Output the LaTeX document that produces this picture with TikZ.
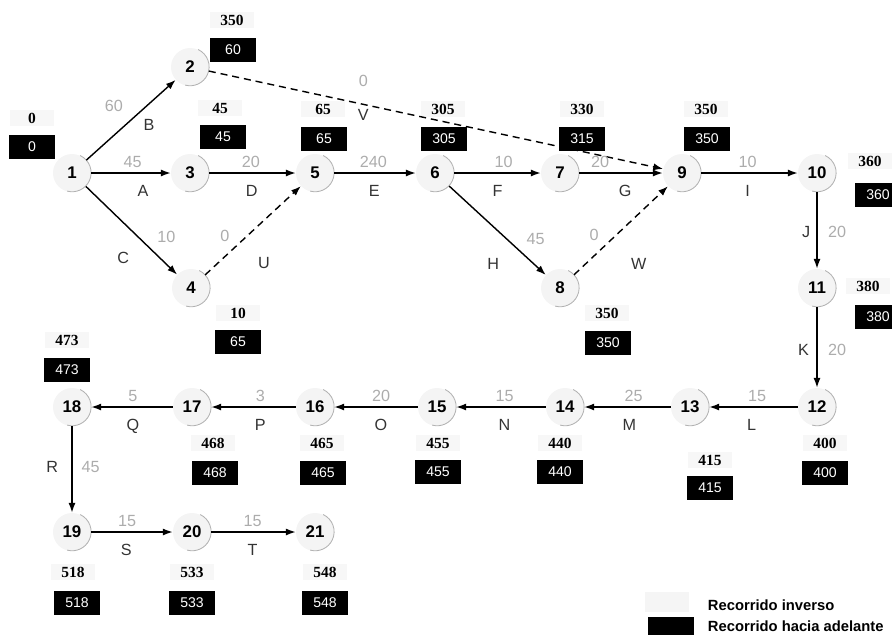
\documentclass[tikz,border=0pt]{standalone}
\usepackage{fontspec}
\setmainfont{Liberation Sans}
\newfontfamily\invfont{Liberation Serif}
\usetikzlibrary{arrows.meta}
\tikzset{
  ev/.style={circle, fill=gray!9, minimum size=0.95cm, inner sep=0pt,
    font=\bfseries\fontsize{12}{14}\selectfont},
  fwd/.style={fill=black, text=white, minimum width=1.15cm, minimum height=0.58cm,
    inner sep=0pt, font=\fontsize{10}{12}\selectfont},
  inv/.style={fill=gray!6, minimum width=1.1cm, minimum height=0.42cm, inner sep=0pt,
    font=\invfont\bfseries\fontsize{11}{13}\selectfont},
  arr/.style={-{Latex[length=7pt,width=5pt]}, line width=1pt},
  dsh/.style={arr, dash pattern=on 5pt off 3.5pt},
  wt/.style={text=gray!65, font=\fontsize{11.5}{13}\selectfont},
  lt/.style={text=black!80, font=\fontsize{11.5}{13}\selectfont},
}
\begin{document}
\begin{tikzpicture}[x=0.025cm, y=-0.025cm]
  \useasboundingbox (0,0) rectangle (892,634);
  % events
  \node[ev] (n1) at (72,173) {1};
  \node[ev] (n2) at (190,67) {2};
  \node[ev] (n3) at (190,173) {3};
  \node[ev] (n4) at (191,288) {4};
  \node[ev] (n5) at (315,173) {5};
  \node[ev] (n6) at (435,173) {6};
  \node[ev] (n7) at (560,173) {7};
  \node[ev] (n8) at (560,288) {8};
  \node[ev] (n9) at (682,173) {9};
  \node[ev] (n10) at (817,173) {10};
  \node[ev] (n11) at (817,288) {11};
  \node[ev] (n12) at (817,407) {12};
  \node[ev] (n13) at (690,407) {13};
  \node[ev] (n14) at (565,407) {14};
  \node[ev] (n15) at (437,407) {15};
  \node[ev] (n16) at (315,407) {16};
  \node[ev] (n17) at (192,407) {17};
  \node[ev] (n18) at (72,407) {18};
  \node[ev] (n19) at (72,532) {19};
  \node[ev] (n20) at (192,532) {20};
  \node[ev] (n21) at (315,532) {21};
  \foreach \n in {1,...,21}
    \draw[gray!60, line width=0.6pt] (n\n.65) arc[start angle=65, end angle=-105, radius=0.475cm];
  % backward pass values and forward pass boxes
  \node[inv] (i1) at (32,118) {0};     \node[fwd] (f1) at (32,147) {0};
  \node[inv] (i2) at (232,20) {350};   \node[fwd] (f2) at (233,50) {60};
  \node[inv] (i3) at (220,108) {45};   \node[fwd] (f3) at (223,137) {45};
  \node[inv] (i4) at (238,313) {10};   \node[fwd] (f4) at (238,342) {65};
  \node[inv] (i5) at (323,109) {65};   \node[fwd] (f5) at (324,139) {65};
  \node[inv] (i6) at (443,109) {305};  \node[fwd] (f6) at (444,139) {305};
  \node[inv] (i7) at (582,109) {330};  \node[fwd] (f7) at (582,139) {315};
  \node[inv] (i8) at (607,313) {350};  \node[fwd] (f8) at (608,343) {350};
  \node[inv] (i9) at (706,109) {350};  \node[fwd] (f9) at (707,139) {350};
  \node[inv] (i10) at (870,161) {360}; \node[fwd] (f10) at (878,195) {360};
  \node[inv] (i11) at (868,286) {380}; \node[fwd] (f11) at (878,317) {380};
  \node[inv] (i12) at (825,443) {400}; \node[fwd] (f12) at (825,473) {400};
  \node[inv] (i13) at (710,460) {415}; \node[fwd] (f13) at (710,488) {415};
  \node[inv] (i14) at (560,443) {440}; \node[fwd] (f14) at (560,472) {440};
  \node[inv] (i15) at (438,443) {455}; \node[fwd] (f15) at (438,472) {455};
  \node[inv] (i16) at (322,443) {465}; \node[fwd] (f16) at (323,473) {465};
  \node[inv] (i17) at (213,443) {468}; \node[fwd] (f17) at (215,473) {468};
  \node[inv] (i18) at (67,340) {473};  \node[fwd] (f18) at (67,370) {473};
  \node[inv] (i19) at (73,572) {518};  \node[fwd] (f19) at (77,603) {518};
  \node[inv] (i20) at (192,572) {533}; \node[fwd] (f20) at (192,603) {533};
  \node[inv] (i21) at (325,572) {548}; \node[fwd] (f21) at (325,603) {548};
  % activities
  \draw[arr] (n1) -- node[wt, pos=.5, above left=2pt] {60} node[lt, pos=.58, below right=0pt] {B} (n2);
  \draw[arr] (n1) -- node[wt, pos=.52, above] {45} node[lt, pos=.65, below=5pt] {A} (n3);
  \draw[arr] (n1) -- node[wt, pos=.71, above right=1pt] {10} node[lt, pos=.61, below left=5pt] {C} (n4);
  \draw[dsh] (n2) -- node[wt, pos=.34, above=9pt] {0} node[lt, pos=.34, below=0pt] {V} (n9);
  \draw[arr] (n3) -- node[wt, pos=.48, above] {20} node[lt, pos=.49, below=5pt] {D} (n5);
  \draw[dsh] (n4) -- node[wt, pos=.31, above left=0pt] {0} node[lt, pos=.38, below right=8pt] {U} (n5);
  \draw[arr] (n5) -- node[wt, pos=.48, above] {240} node[lt, pos=.49, below=5pt] {E} (n6);
  \draw[arr] (n6) -- node[wt, pos=.57, above] {10} node[lt, pos=.5, below=5pt] {F} (n7);
  \draw[arr] (n6) -- node[wt, pos=.73, above right=1pt] {45} node[lt, pos=.66, below left=6pt] {H} (n8);
  \draw[arr] (n7) -- node[wt, pos=.25, above] {20} node[lt, pos=.55, below=5pt] {G} (n9);
  \draw[dsh] (n8) -- node[wt, pos=.32, above left=0pt] {0} node[lt, pos=.40, below right=10pt] {W} (n9);
  \draw[arr] (n9) -- node[wt, pos=.48, above] {10} node[lt, pos=.48, below=5pt] {I} (n10);
  \draw[arr] (n10) -- node[lt, pos=.52, left=1pt] {J} node[wt, pos=.52, right=4pt] {20} (n11);
  \draw[arr] (n11) -- node[lt, pos=.53, left=2pt] {K} node[wt, pos=.53, right=4pt] {20} (n12);
  \draw[arr] (n12) -- node[wt, pos=.46, above] {15} node[lt, pos=.52, below=5pt] {L} (n13);
  \draw[arr] (n13) -- node[wt, pos=.43, above] {25} node[lt, pos=.48, below=5pt] {M} (n14);
  \draw[arr] (n14) -- node[wt, pos=.46, above] {15} node[lt, pos=.46, below=5pt] {N} (n15);
  \draw[arr] (n15) -- node[wt, pos=.44, above] {20} node[lt, pos=.44, below=5pt] {O} (n16);
  \draw[arr] (n16) -- node[wt, pos=.42, above] {3} node[lt, pos=.42, below=5pt] {P} (n17);
  \draw[arr] (n17) -- node[wt, pos=.49, above] {5} node[lt, pos=.49, below=5pt] {Q} (n18);
  \draw[arr] (n18) -- node[lt, pos=.47, left=6pt] {R} node[wt, pos=.47, right=3pt] {45} (n19);
  \draw[arr] (n19) -- node[wt, pos=.44, above] {15} node[lt, pos=.43, below=5pt] {S} (n20);
  \draw[arr] (n20) -- node[wt, pos=.49, above] {15} node[lt, pos=.49, below=5pt] {T} (n21);
  % legend
  \node[fill=gray!8, minimum width=1.1cm, minimum height=0.5cm] (kinv) at (667,602) {};
  \node[fill=black, minimum width=1.15cm, minimum height=0.45cm] (kfwd) at (671,626) {};
  \node[anchor=west, font=\bfseries\fontsize{10.5}{12}\selectfont] at (703,605) {Recorrido inverso};
  \node[anchor=west, font=\bfseries\fontsize{10.5}{12}\selectfont] at (703,626) {Recorrido hacia adelante};
\end{tikzpicture}
\end{document}
